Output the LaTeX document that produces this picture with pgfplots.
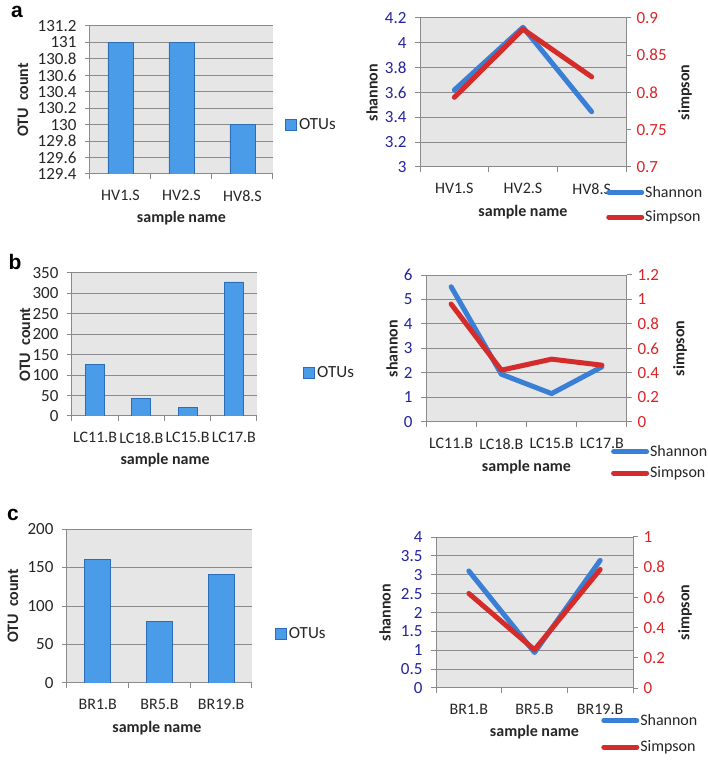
\documentclass[border=0pt]{standalone}
\usepackage{pgfplots}
\pgfplotsset{compat=1.18}
\usepackage{fontspec}
\setmainfont{Carlito}
\newfontfamily\letterfont{Liberation Sans}
\definecolor{bgc}{HTML}{E6E6E6}
\definecolor{gridc}{HTML}{8A8A8A}
\definecolor{barfill}{HTML}{4A9BE8}
\definecolor{bardraw}{HTML}{2C6DB8}
\definecolor{shan}{HTML}{3A7FD6}
\definecolor{simp}{HTML}{D42B2B}
\definecolor{tickblue}{HTML}{23239C}
\definecolor{tickred}{HTML}{DC2428}
\definecolor{txt}{HTML}{262626}
\pgfplotsset{
  common/.style={
    scale only axis, anchor=south west,
    /pgf/number format/assume math mode=true,
    tick label style={font=\fontsize{17}{19}\selectfont, text=txt},
    label style={font=\bfseries\fontsize{16}{18}\selectfont, text=txt},
    axis line style={gridc, line width=1pt},
    tick style={gridc, line width=1pt},
    tick align=outside,
    major tick length=0pt, minor tick length=5pt,
    grid style={gridc, line width=1pt},
  },
  leftax/.style={common, axis x line*=bottom, axis y line*=left, ymajorgrids,
    axis background/.style={fill=bgc},
    yticklabel style={xshift=-10pt}, xticklabel style={yshift=-13pt, font=\fontsize{16}{18}\selectfont}},
  barleg/.style={legend style={draw=none, fill=none, inner sep=0pt, font=\fontsize{17}{19}\selectfont, text=txt},
    legend image code/.code={\draw[fill=barfill, draw=bardraw, line width=0.8pt] (0pt,-5pt) rectangle (11pt,6pt);}},
  lineleg/.style={legend style={draw=none, fill=none, inner sep=0pt, row sep=8pt, font=\fontsize{16}{18}\selectfont, text=txt, nodes={inner xsep=1pt}},
    legend cell align=left,
    legend image code/.code={\draw[##1] (0pt,0pt) -- (33pt,0pt);}},
  rightax/.style={common, axis x line=none, axis y line*=right,
    yticklabel style={xshift=7pt, text=tickred}},
  shanplot/.style={shan, line width=5pt, line cap=round, line join=round, no marks},
  simpplot/.style={simp, line width=5pt, line cap=round, line join=round, no marks},
}
\begin{document}
\begin{tikzpicture}
\useasboundingbox (0pt,0pt) rectangle (708pt,764pt);
% panel letters
\node[font=\letterfont\bfseries\fontsize{21}{21}\selectfont] at (17pt,752pt) {a};
\node[font=\letterfont\bfseries\fontsize{21}{21}\selectfont] at (15pt,502pt) {b};
\node[font=\letterfont\bfseries\fontsize{21}{21}\selectfont] at (13pt,249pt) {c};

% ===== a left =====
\begin{axis}[leftax, at={(90pt,590pt)}, width=183pt, height=148pt,
  xmin=-0.5, xmax=2.5, ymin=129.4, ymax=131.2,
  ytick={129.4,129.6,129.8,130,130.2,130.4,130.6,130.8,131,131.2},
  minor ytick={129.4,129.6,129.8,130,130.2,130.4,130.6,130.8,131,131.2},
  yticklabels={129.4,129.6,129.8,130,130.2,130.4,130.6,130.8,131,131.2},
  xtick={0,1,2}, xticklabels={HV1.S,HV2.S,HV8.S},
  minor xtick={-0.5,0.5,1.5,2.5},
  ylabel={OTU\ \ count}, xlabel={sample name},
  ylabel style={at={(axis description cs:-0.366,0.5)}, anchor=center, rotate=0},
  xlabel style={at={(axis description cs:0.5,-0.297)}, anchor=center},
  ybar, bar width=25pt, barleg,
  legend style={at={(axis description cs:1.066,0.331)}, anchor=west}]
\addplot[fill=barfill, draw=bardraw, line width=0.8pt] coordinates {(0,131) (1,131) (2,130)};
\addlegendentry{OTUs}
\end{axis}

% ===== a right =====
\begin{axis}[leftax, at={(420pt,597pt)}, width=206pt, height=149pt,
  xmin=-0.5, xmax=2.5, ymin=3, ymax=4.2,
  ytick={3,3.2,3.4,3.6,3.8,4,4.2}, minor ytick={3,3.2,3.4,3.6,3.8,4,4.2},
  yticklabels={3,3.2,3.4,3.6,3.8,4,4.2},
  yticklabel style={text=tickblue},
  xtick={0,1,2}, xticklabels={HV1.S,HV2.S,HV8.S},
  minor xtick={-0.5,0.5,1.5,2.5},
  ylabel={shannon}, xlabel={sample name},
  ylabel style={at={(axis description cs:-0.233,0.5)}, anchor=center, rotate=0},
  xlabel style={at={(axis description cs:0.5,-0.302)}, anchor=center}]
\addplot[shanplot] coordinates {(0,3.62) (1,4.125) (2,3.445)};
\end{axis}
\begin{axis}[rightax, lineleg, at={(420pt,597pt)}, width=206pt, height=149pt,
  xmin=-0.5, xmax=2.5, ymin=0.7, ymax=0.9,
  ytick={0.7,0.75,0.8,0.85,0.9}, minor ytick={0.7,0.75,0.8,0.85,0.9},
  yticklabels={0.7,0.75,0.8,0.85,0.9},
  ylabel={simpson},
  ylabel style={at={(axis description cs:1.286,0.5)}, anchor=center, rotate=0},
  legend style={at={(axis description cs:0.903,-0.114)}, anchor=north west}]
\addlegendimage{shanplot}
\addlegendentry{Shannon}
\addplot[simpplot] coordinates {(0,0.7935) (1,0.885) (2,0.821)};
\addlegendentry{Simpson}
\end{axis}

% ===== b left =====
\begin{axis}[leftax, at={(72pt,348pt)}, width=185pt, height=143pt,
  xmin=-0.5, xmax=3.5, ymin=0, ymax=350,
  ytick={0,50,100,150,200,250,300,350}, minor ytick={0,50,100,150,200,250,300,350},
  xtick={0,1,2,3}, xticklabels={LC11.B,LC18.B,LC15.B,LC17.B},
  minor xtick={-0.5,0.5,1.5,2.5,3.5},
  ylabel={OTU\ \ count}, xlabel={sample name},
  ylabel style={at={(axis description cs:-0.254,0.5)}, anchor=center, rotate=0},
  xlabel style={at={(axis description cs:0.503,-0.308)}, anchor=center},
  ybar, bar width=19pt, barleg,
  legend style={at={(axis description cs:1.25,0.30)}, anchor=west}]
\addplot[fill=barfill, draw=bardraw, line width=0.8pt] coordinates {(0,127) (1,44) (2,21) (3,328)};
\addlegendentry{OTUs}
\end{axis}

% ===== b right =====
\begin{axis}[leftax, at={(426pt,342pt)}, width=201pt, height=147pt,
  xmin=-0.5, xmax=3.5, ymin=0, ymax=6,
  ytick={0,1,2,3,4,5,6}, minor ytick={0,1,2,3,4,5,6},
  yticklabel style={text=tickblue},
  xtick={0,1,2,3}, xticklabels={LC11.B,LC18.B,LC15.B,LC17.B},
  minor xtick={-0.5,0.5,1.5,2.5,3.5},
  ylabel={shannon}, xlabel={sample name},
  ylabel style={at={(axis description cs:-0.169,0.5)}, anchor=center, rotate=0},
  xlabel style={at={(axis description cs:0.5,-0.306)}, anchor=center}]
\addplot[shanplot] coordinates {(0,5.52) (1,1.95) (2,1.16) (3,2.25)};
\end{axis}
\begin{axis}[rightax, lineleg, at={(426pt,342pt)}, width=201pt, height=147pt,
  xmin=-0.5, xmax=3.5, ymin=0, ymax=1.2,
  ytick={0,0.2,0.4,0.6,0.8,1,1.2}, minor ytick={0,0.2,0.4,0.6,0.8,1,1.2},
  yticklabels={0,0.2,0.4,0.6,0.8,1,1.2},
  ylabel={simpson},
  ylabel style={at={(axis description cs:1.264,0.5)}, anchor=center, rotate=0},
  legend style={at={(axis description cs:0.92,-0.143)}, anchor=north west, row sep=5pt}]
\addlegendimage{shanplot}
\addlegendentry{Shannon}
\addplot[simpplot] coordinates {(0,0.963) (1,0.423) (2,0.513) (3,0.464)};
\addlegendentry{Simpson}
\end{axis}

% ===== c left =====
\begin{axis}[leftax, at={(67pt,81pt)}, width=185pt, height=154pt,
  xmin=-0.5, xmax=2.5, ymin=0, ymax=200,
  ytick={0,50,100,150,200}, minor ytick={0,50,100,150,200},
  xtick={0,1,2}, xticklabels={BR1.B,BR5.B,BR19.B},
  minor xtick={-0.5,0.5,1.5,2.5},
  ylabel={OTU\ \ count}, xlabel={sample name},
  ylabel style={at={(axis description cs:-0.292,0.5)}, anchor=center, rotate=0},
  xlabel style={at={(axis description cs:0.486,-0.292)}, anchor=center},
  ybar, bar width=26pt, barleg,
  legend style={at={(axis description cs:1.124,0.318)}, anchor=west}]
\addplot[fill=barfill, draw=bardraw, line width=0.8pt] coordinates {(0,160) (1,79.5) (2,141.5)};
\addlegendentry{OTUs}
\end{axis}

% ===== c right =====
\begin{axis}[leftax, at={(436pt,76pt)}, width=197pt, height=151pt,
  xmin=-0.5, xmax=2.5, ymin=0, ymax=4,
  ytick={0,0.5,1,1.5,2,2.5,3,3.5,4}, minor ytick={0,0.5,1,1.5,2,2.5,3,3.5,4},
  yticklabels={0,0.5,1,1.5,2,2.5,3,3.5,4},
  yticklabel style={text=tickblue},
  xtick={0,1,2}, xticklabels={BR1.B,BR5.B,BR19.B},
  minor xtick={-0.5,0.5,1.5,2.5},
  ylabel={shannon}, xlabel={sample name},
  ylabel style={at={(axis description cs:-0.259,0.5)}, anchor=center, rotate=0},
  xlabel style={at={(axis description cs:0.5,-0.291)}, anchor=center}]
\addplot[shanplot] coordinates {(0,3.10) (1,0.94) (2,3.38)};
\end{axis}
\begin{axis}[rightax, lineleg, at={(436pt,76pt)}, width=197pt, height=151pt,
  xmin=-0.5, xmax=2.5, ymin=0, ymax=1,
  ytick={0,0.2,0.4,0.6,0.8,1}, minor ytick={0,0.2,0.4,0.6,0.8,1},
  yticklabels={0,0.2,0.4,0.6,0.8,1},
  ylabel={simpson},
  ylabel style={at={(axis description cs:1.264,0.5)}, anchor=center, rotate=0},
  legend style={at={(axis description cs:0.838,-0.159)}, anchor=north west, row sep=10pt}]
\addlegendimage{shanplot}
\addlegendentry{Shannon}
\addplot[simpplot] coordinates {(0,0.626) (1,0.253) (2,0.785)};
\addlegendentry{Simpson}
\end{axis}
\end{tikzpicture}
\end{document}
